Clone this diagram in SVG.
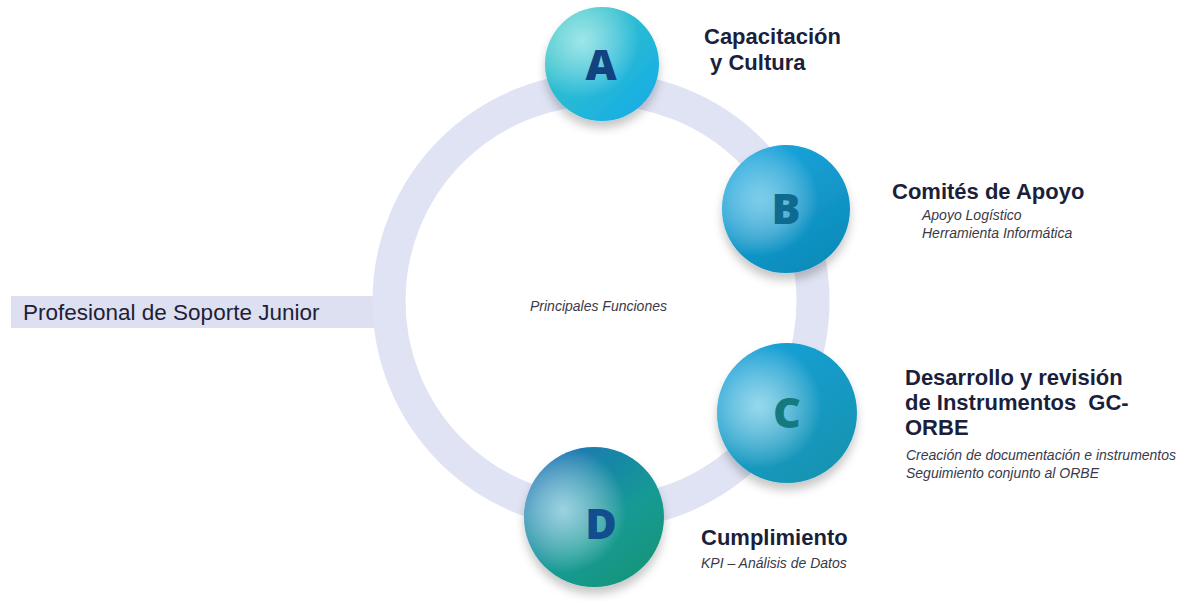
<svg xmlns="http://www.w3.org/2000/svg" width="1190" height="601" viewBox="0 0 1190 601">
<defs>
<style>
.h{font-family:"Liberation Sans",Arial,sans-serif;font-weight:bold;font-size:22px;fill:#1b1f3b;white-space:pre}
.s{font-family:"Liberation Sans",Arial,sans-serif;font-style:italic;font-size:14px;fill:#3a3a4a}
.L{font-family:"Open Sans","DejaVu Sans",sans-serif;font-weight:800;font-size:43px;text-anchor:middle}
</style>
<filter id="sh" x="-30%" y="-30%" width="160%" height="170%">
<feDropShadow dx="0" dy="7" stdDeviation="5" flood-color="#000" flood-opacity="0.22"/>
</filter>
<linearGradient id="gA" x1="0" y1="0" x2="1" y2="1"><stop offset="0" stop-color="#3dcac2"/><stop offset="1" stop-color="#13aae8"/></linearGradient>
<linearGradient id="gB" x1="0.2" y1="0" x2="0.8" y2="1"><stop offset="0" stop-color="#1ca6de"/><stop offset="1" stop-color="#0b8ab8"/></linearGradient>
<linearGradient id="gC" x1="0.2" y1="0" x2="0.9" y2="1"><stop offset="0" stop-color="#1aa1da"/><stop offset="1" stop-color="#1292ad"/></linearGradient>
<linearGradient id="gD" x1="0.2" y1="0" x2="0.9" y2="0.9"><stop offset="0" stop-color="#1d74b8"/><stop offset="0.6" stop-color="#159a95"/><stop offset="1" stop-color="#12957a"/></linearGradient>
<radialGradient id="hA" cx="0.33" cy="0.3" r="0.5"><stop offset="0" stop-color="#d8fbf6" stop-opacity="0.65"/><stop offset="1" stop-color="#ffffff" stop-opacity="0"/></radialGradient>
<radialGradient id="hB" cx="0.3" cy="0.42" r="0.45"><stop offset="0" stop-color="#a8e2f6" stop-opacity="0.7"/><stop offset="1" stop-color="#ffffff" stop-opacity="0"/></radialGradient>
<radialGradient id="hC" cx="0.3" cy="0.45" r="0.45"><stop offset="0" stop-color="#c0ecf8" stop-opacity="0.75"/><stop offset="1" stop-color="#ffffff" stop-opacity="0"/></radialGradient>
<radialGradient id="hD" cx="0.28" cy="0.45" r="0.45"><stop offset="0" stop-color="#c8eaf6" stop-opacity="0.75"/><stop offset="1" stop-color="#ffffff" stop-opacity="0"/></radialGradient>
</defs>
<rect width="1190" height="601" fill="#ffffff"/>
<g id="connectors">
<rect x="11" y="296" width="364" height="32" fill="#dde0f1"/>
<circle cx="601" cy="301" r="212" fill="none" stroke="#e0e3f3" stroke-width="33"/>
</g>
<g id="root">
<text x="23" y="320" font-family="Liberation Sans, Arial, sans-serif" font-size="22.5" fill="#1f2035">Profesional de Soporte Junior</text>
</g>
<g id="center">
<text class="s" x="530" y="311">Principales Funciones</text>
</g>
<g id="nodeA">
<circle cx="602" cy="64" r="57" fill="url(#gA)" filter="url(#sh)"/>
<circle cx="602" cy="64" r="57" fill="url(#hA)"/>
<text class="L" x="601" y="80" fill="#12427f">A</text>
<text class="h" x="704" y="44">Capacitación</text>
<text class="h" x="704" y="70" xml:space="preserve"> y Cultura</text>
</g>
<g id="nodeB">
<circle cx="786" cy="209" r="64" fill="url(#gB)" filter="url(#sh)"/>
<circle cx="786" cy="209" r="64" fill="url(#hB)"/>
<text class="L" x="786" y="224" fill="#0e6a8e">B</text>
<text class="h" x="892" y="199">Comités de Apoyo</text>
<text class="s" x="922" y="220">Apoyo Logístico</text>
<text class="s" x="922" y="238">Herramienta Informática</text>
</g>
<g id="nodeC">
<circle cx="787" cy="413" r="70" fill="url(#gC)" filter="url(#sh)"/>
<circle cx="787" cy="413" r="70" fill="url(#hC)"/>
<text class="L" x="787" y="428" fill="#147a80">C</text>
<text class="h" x="905" y="385">Desarrollo y revisión</text>
<text class="h" x="905" y="410" xml:space="preserve">de Instrumentos  GC-</text>
<text class="h" x="905" y="435">ORBE</text>
<text class="s" x="906" y="460">Creación de documentación e instrumentos</text>
<text class="s" x="906" y="478">Seguimiento conjunto al ORBE</text>
</g>
<g id="nodeD">
<circle cx="594" cy="517" r="70" fill="url(#gD)" filter="url(#sh)"/>
<circle cx="594" cy="517" r="70" fill="url(#hD)"/>
<text class="L" x="601" y="539" fill="#124d8e">D</text>
<text class="h" x="701" y="545">Cumplimiento</text>
<text class="s" x="701" y="568">KPI – Análisis de Datos</text>
</g>
</svg>
